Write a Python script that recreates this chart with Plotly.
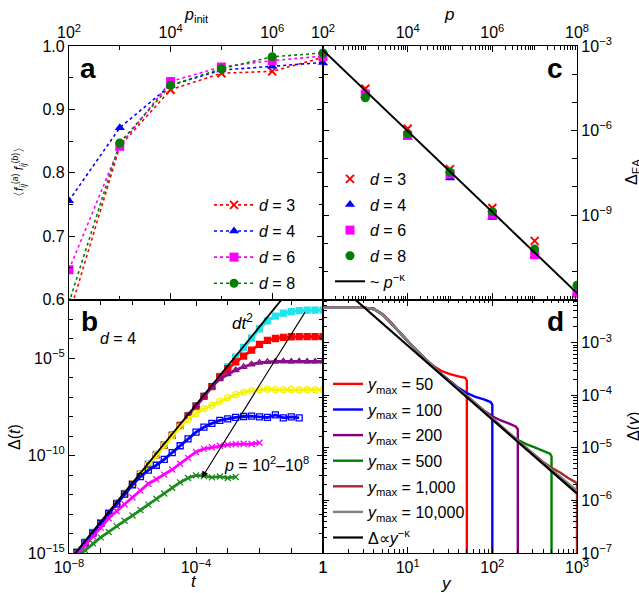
import numpy as np
import plotly.graph_objects as go

FONT = "Liberation Sans, Arial, sans-serif"

# ---------------- Panel a data ----------------
a_pinit = [1e2, 1e3, 1e4, 1e5, 1e6, 1e7]
a_d3 = [0.575, 0.842, 0.931, 0.957, 0.960, 0.982]
a_d4 = [0.756, 0.871, 0.938, 0.962, 0.968, 0.974]
a_d6 = [0.647, 0.842, 0.944, 0.967, 0.977, 0.984]
a_d8 = [0.595, 0.847, 0.938, 0.964, 0.983, 0.989]

# ---------------- Panel c data (log10 values) ----------------
c_p = [1e2, 1e3, 1e4, 1e5, 1e6, 1e7, 1e8]
c_log_d3 = [None, -4.52, -5.94, -7.37, -8.75, -9.92, None]
c_log_d4 = [-3.60, -4.76, -6.24, -7.69, -9.09, -10.45, -11.78]
c_log_d6 = [-3.37, -4.70, -6.18, -7.54, -8.97, -10.41, -11.78]
c_log_d8 = [-3.25, -4.84, -6.12, -7.48, -8.88, -10.21, -11.49]
c_fit_p = [1e2, 1e8]
c_fit_log = [-3.15, -11.77]

# ---------------- Panel b data (log10 t, log10 Delta) ----------------
b_logt = [-8.0, -7.75, -7.5, -7.25, -7.0, -6.75, -6.5, -6.25, -6.0, -5.75, -5.5,
          -5.25, -5.0, -4.75, -4.5, -4.25, -4.0, -3.75, -3.5, -3.25, -3.0, -2.75,
          -2.5, -2.25, -2.0, -1.75, -1.5, -1.25, -1.0, -0.75, -0.5, -0.25, 0.0]
b_cyan = [-15.45, -14.95, -14.45, -13.95, -13.45, -12.95, -12.45, -11.95, -11.45, -10.95, -10.45,
          -9.95, -9.45, -8.95, -8.45, -7.95, -7.45, -6.95, -6.45, -5.95, -5.45, -4.95,
          -4.46, -3.98, -3.50, -3.10, -2.85, -2.70, -2.62, -2.57, -2.55, -2.54, -2.54]
b_red = [-15.47, -14.97, -14.47, -13.97, -13.47, -12.97, -12.47, -11.97, -11.47, -10.97, -10.47,
         -9.97, -9.47, -8.97, -8.47, -7.97, -7.47, -6.97, -6.47, -5.97, -5.55, -5.20,
         -4.90, -4.60, -4.30, -4.10, -4.00, -3.94, -3.91, -3.90, -3.90, -3.90, -3.90]
b_purple = [-15.45, -14.95, -14.45, -13.95, -13.45, -12.95, -12.45, -11.95, -11.45, -10.95, -10.45,
            -9.95, -9.45, -8.95, -8.45, -7.95, -7.45, -6.96, -6.48, -6.08, -5.83, -5.62,
            -5.45, -5.32, -5.24, -5.20, -5.18, -5.17, -5.18, -5.17, -5.18, -5.18, -5.18]
b_yellow = [-15.46, -14.96, -14.46, -13.96, -13.46, -12.96, -12.46, -11.96, -11.46, -10.96, -10.46,
            -9.96, -9.46, -8.98, -8.52, -8.15, -7.84, -7.60, -7.42, -7.22, -7.03, -6.88,
            -6.76, -6.67, -6.63, -6.60, -6.62, -6.63, -6.61, -6.64, -6.62, -6.63, -6.62]
b_blue = [-15.48, -14.98, -14.48, -13.98, -13.48, -12.98, -12.48, -11.98, -11.50, -11.08, -10.75,
          -10.50, -10.20, -9.85, -9.50, -9.15, -8.80, -8.55, -8.35, -8.20, -8.12, -8.05,
          -8.00, -7.98, -8.02, -8.05, -7.92, -8.07, -8.02, -8.07, None, None, None]
b_magenta = [-15.60, -15.10, -14.62, -14.15, -13.70, -13.22, -12.85, -12.50, -12.15, -11.80, -11.45,
             -11.22, -10.98, -10.72, -10.42, -10.12, -9.82, -9.66, -9.58, -9.50, -9.45, -9.42,
             -9.40, -9.41, -9.35, None, None, None, None, None, None, None, None]
b_green = [-15.55, -15.20, -14.85, -14.50, -14.20, -13.92, -13.62, -13.35, -13.08, -12.80, -12.52,
           -12.22, -11.95, -11.65, -11.38, -11.15, -11.02, -11.05, -11.12, -11.08, -11.15, -11.10,
           None, None, None, None, None, None, None, None, None, None, None]
b_line_t = [1e-8, 1e-1]
b_line_D = [4e-16, 4e-2]

# ---------------- Panel d data (log10 y, log10 Delta) ----------------
d_gray_ly = [0, 0.25, 0.5, 0.6, 0.7, 0.8, 0.9, 1.0, 1.2, 1.4, 1.6, 1.8, 2.0, 2.2, 2.4, 2.6, 2.8, 3.0]
d_gray_lD = [-2.34, -2.34, -2.34, -2.36, -2.46, -2.62, -2.80, -2.97, -3.30, -3.60, -3.88, -4.16,
             -4.44, -4.73, -5.00, -5.28, -5.55, -5.82]
d_red_ly = [0, 0.25, 0.5, 0.6, 0.7, 0.8, 0.9, 1.0, 1.2, 1.3, 1.4, 1.5, 1.6, 1.68, 1.699, 1.699]
d_red_lD = [-2.34, -2.34, -2.34, -2.36, -2.46, -2.62, -2.80, -2.97, -3.30, -3.44, -3.54, -3.60,
            -3.64, -3.67, -3.72, -8.0]
d_blue_ly = [0, 0.25, 0.5, 0.6, 0.7, 0.8, 0.9, 1.0, 1.2, 1.4, 1.5, 1.6, 1.7, 1.8, 1.9, 1.98, 2.0, 2.0]
d_blue_lD = [-2.34, -2.34, -2.34, -2.36, -2.46, -2.62, -2.80, -2.97, -3.30, -3.60, -3.73, -3.86,
             -3.96, -4.03, -4.08, -4.13, -4.18, -8.0]
d_purple_ly = [0, 0.25, 0.5, 0.6, 0.7, 0.8, 0.9, 1.0, 1.2, 1.4, 1.6, 1.8, 1.9, 2.0, 2.1, 2.2, 2.28,
               2.301, 2.301]
d_purple_lD = [-2.34, -2.34, -2.34, -2.36, -2.46, -2.62, -2.80, -2.97, -3.30, -3.60, -3.88, -4.16,
               -4.29, -4.40, -4.48, -4.54, -4.60, -4.65, -8.0]
d_green_ly = [0, 0.25, 0.5, 0.6, 0.7, 0.8, 0.9, 1.0, 1.2, 1.4, 1.6, 1.8, 2.0, 2.2, 2.3, 2.4, 2.5,
              2.6, 2.68, 2.699, 2.699]
d_green_lD = [-2.34, -2.34, -2.34, -2.36, -2.46, -2.62, -2.80, -2.97, -3.30, -3.60, -3.88, -4.16,
              -4.44, -4.73, -4.85, -4.93, -4.99, -5.05, -5.11, -5.16, -8.0]
d_brown_ly = [0, 0.25, 0.5, 0.6, 0.7, 0.8, 0.9, 1.0, 1.2, 1.4, 1.6, 1.8, 2.0, 2.2, 2.4, 2.6, 2.7,
              2.8, 2.9, 2.99, 3.0, 3.0]
d_brown_lD = [-2.34, -2.34, -2.34, -2.36, -2.46, -2.62, -2.80, -2.97, -3.30, -3.60, -3.88, -4.16,
              -4.44, -4.73, -5.00, -5.27, -5.38, -5.47, -5.58, -5.66, -5.70, -8.0]
d_fit_y = [2.39, 1000]
d_fit_D = [6.6e-3, 1.35e-6]


def p10(v):
    return [None if x is None else 10.0 ** x for x in v]


# ---------- geometry helpers (pixel -> paper) ----------
L, R, T, B = 69, 62, 46, 40
W, H = 639, 593
PW, PH = W - L - R, H - T - B


def px(x):
    return (x - L) / PW


def py(y):
    return (H - B - y) / PH


fig = go.Figure()

# ---------------- Panel a ----------------
a_specs = [
    (a_d3, "red", "x-thin", 8, "<i>d</i> = 3"),
    (a_d4, "blue", "triangle-up", 9, "<i>d</i> = 4"),
    (a_d6, "magenta", "square", 9, "<i>d</i> = 6"),
    (a_d8, "green", "circle", 9, "<i>d</i> = 8"),
]
for i, (vals, col, sym, sz, name) in enumerate(a_specs):
    fig.add_trace(go.Scatter(
        x=a_pinit, y=vals, mode="lines+markers", name=name,
        line=dict(color=col, dash="dot", width=1.6),
        marker=dict(symbol=sym, size=sz, color=col, line=dict(color=col, width=2 if sym == "x-thin" else 0)),
        xaxis="x", yaxis="y", legend="legend", legendgroup="a%d" % i))

# ---------------- Panel c ----------------
c_specs = [
    (c_log_d3, "red", "x-thin", 8, "<i>d</i> = 3"),
    (c_log_d4, "blue", "triangle-up", 9, "<i>d</i> = 4"),
    (c_log_d6, "magenta", "square", 9, "<i>d</i> = 6"),
    (c_log_d8, "green", "circle", 9, "<i>d</i> = 8"),
]
for i, (vals, col, sym, sz, name) in enumerate(c_specs):
    fig.add_trace(go.Scatter(
        x=c_p, y=p10(vals), mode="markers", name=name,
        marker=dict(symbol=sym, size=sz, color=col, line=dict(color=col, width=2 if sym == "x-thin" else 0)),
        xaxis="x2", yaxis="y2", legend="legend2", legendgroup="c%d" % i))
fig.add_trace(go.Scatter(
    x=c_fit_p, y=p10(c_fit_log), mode="lines", name="~ <i>p</i><sup>−κ</sup>",
    line=dict(color="black", width=2), xaxis="x2", yaxis="y2", legend="legend2", legendgroup="c9"))

# ---------------- Panel b ----------------
b_t = p10(b_logt)
b_specs = [
    (b_cyan, "#20e4ec", "square", 6),
    (b_red, "#ff0000", "square", 6),
    (b_purple, "#8a108a", "triangle-up-open", 6),
    (b_yellow, "#f4f400", "circle-open", 6),
    (b_blue, "#0000ff", "square-open", 6),
    (b_magenta, "#ff00ff", "x-thin", 6),
    (b_green, "#1f8a1f", "x-thin", 6),
]
for vals, col, sym, sz in b_specs:
    fig.add_trace(go.Scatter(
        x=b_t, y=p10(vals), mode="lines+markers", showlegend=False,
        line=dict(color=col, width=2.8),
        marker=dict(symbol=sym, size=sz, color=col, line=dict(color=col, width=1.3)),
        xaxis="x3", yaxis="y3"))
fig.add_trace(go.Scatter(x=b_line_t, y=b_line_D, mode="lines", showlegend=False,
                         line=dict(color="black", width=1.8), xaxis="x3", yaxis="y3"))

# ---------------- Panel d ----------------
d_specs = [
    (d_red_ly, d_red_lD, "#ff0000", "<i>y</i><sub>max</sub> = 50"),
    (d_blue_ly, d_blue_lD, "#0000ff", "<i>y</i><sub>max</sub> = 100"),
    (d_purple_ly, d_purple_lD, "#800080", "<i>y</i><sub>max</sub> = 200"),
    (d_green_ly, d_green_lD, "#008000", "<i>y</i><sub>max</sub> = 500"),
    (d_brown_ly, d_brown_lD, "#a52a2a", "<i>y</i><sub>max</sub> = 1,000"),
    (d_gray_ly, d_gray_lD, "#808080", "<i>y</i><sub>max</sub> = 10,000"),
]
for i, (lx, lD, col, name) in enumerate(d_specs):
    fig.add_trace(go.Scatter(
        x=p10(lx), y=p10(lD), mode="lines", name=name,
        line=dict(color=col, width=2.4), xaxis="x4", yaxis="y4",
        legend="legend3", legendgroup="d%d" % i))
fig.add_trace(go.Scatter(
    x=d_fit_y, y=d_fit_D, mode="lines", name="Δ∝<i>y</i><sup>−κ</sup>",
    line=dict(color="black", width=2.2), xaxis="x4", yaxis="y4",
    legend="legend3", legendgroup="d9"))


# ---------------- Axes ----------------
def dec_minor(lo, hi):
    out = []
    for e in range(lo, hi):
        for m in range(2, 10):
            out.append(m * 10.0 ** e)
    return out


def sup(e):
    s = str(e).replace("-", "−")
    return "10<sup>%s</sup>" % s


base = dict(showline=True, linecolor="black", linewidth=1.3, mirror="ticks", ticks="inside",
            ticklen=6, tickwidth=1.2, tickcolor="black", showgrid=False, zeroline=False,
            automargin=False, tickfont=dict(family=FONT, size=16, color="black"))
minor_style = dict(ticks="inside", ticklen=3.5, tickwidth=1, tickcolor="black", showgrid=False)

fig.update_layout(
    xaxis=dict(base, domain=[0, 0.5], anchor="y", side="top", type="log", range=[2, 7],
               tickvals=[1e2, 1e4, 1e6], ticktext=[sup(2), sup(4), sup(6)],
               minor=dict(minor_style, tickvals=[1e3, 1e5, 1e7])),
    yaxis=dict(base, domain=[0.5, 1], anchor="x", range=[0.6, 1.0],
               tickvals=[0.6, 0.7, 0.8, 0.9, 1.0], ticktext=["0.6", "0.7", "0.8", "0.9", "1.0"],
               minor=dict(minor_style, tickvals=[0.65, 0.75, 0.85, 0.95])),
    xaxis2=dict(base, domain=[0.5, 1], anchor="y2", side="top", type="log", range=[2, 8],
                tickvals=[1e2, 1e4, 1e6, 1e8], ticktext=[sup(2), sup(4), sup(6), sup(8)],
                minor=dict(minor_style, tickvals=dec_minor(2, 8) + [1e3, 1e5, 1e7])),
    yaxis2=dict(base, domain=[0.5, 1], anchor="x2", side="right", type="log", range=[-12, -3],
                tickvals=[1e-9, 1e-6, 1e-3], ticktext=[sup(-9), sup(-6), sup(-3)],
                minor=dict(minor_style, ticklen=5, tickvals=[1e-12, 1e-11, 1e-10, 1e-8, 1e-7, 1e-5, 1e-4])),
    xaxis3=dict(base, domain=[0, 0.5], anchor="y3", side="bottom", type="log", range=[-8, 0],
                tickvals=[1e-8, 1e-4, 1], ticktext=[sup(-8), sup(-4), "1"],
                minor=dict(minor_style, ticklen=5, tickvals=[1e-7, 1e-6, 1e-5, 1e-3, 1e-2, 1e-1])),
    yaxis3=dict(base, domain=[0, 0.5], anchor="x3", type="log", range=[-15, -2],
                tickvals=[1e-15, 1e-10, 1e-5], ticktext=[sup(-15), sup(-10), sup(-5)],
                minor=dict(minor_style, ticklen=4,
                           tickvals=[1e-14, 1e-13, 1e-12, 1e-11, 1e-9, 1e-8, 1e-7, 1e-6, 1e-4, 1e-3, 1e-2])),
    xaxis4=dict(base, domain=[0.5, 1], anchor="y4", side="bottom", type="log", range=[0, 3],
                tickvals=[1, 10, 100, 1000], ticktext=["1", sup(1), sup(2), sup(3)],
                minor=dict(minor_style, tickvals=dec_minor(0, 3))),
    yaxis4=dict(base, domain=[0, 0.5], anchor="x4", side="right", type="log", range=[-7, -2.18],
                tickvals=[1e-7, 1e-6, 1e-5, 1e-4, 1e-3],
                ticktext=[sup(-7), sup(-6), sup(-5), sup(-4), sup(-3)],
                minor=dict(minor_style, tickvals=dec_minor(-7, -2))),
)

leg_common = dict(bgcolor="rgba(0,0,0,0)", borderwidth=0, font=dict(family=FONT, size=16, color="black"),
                  tracegroupgap=1.8, xanchor="left", yanchor="top", itemwidth=30)
fig.update_layout(
    legend=dict(leg_common, x=px(209), y=py(188), itemwidth=40, tracegroupgap=2.3),
    legend2=dict(leg_common, x=px(330), y=py(162)),
    legend3=dict(leg_common, x=px(328), y=py(367)),
)

ann = []


def txt(x, y, t, size=16, bold=False, angle=0):
    ann.append(dict(x=px(x), y=py(y), xref="paper", yref="paper", text=("<b>%s</b>" % t) if bold else t,
                    showarrow=False, textangle=angle, xanchor="center", yanchor="middle",
                    font=dict(family=FONT, size=size, color="black")))


txt(88, 68, "a", 28, True)
txt(555, 68, "c", 28, True)
txt(89, 321, "b", 28, True)
txt(555, 321, "d", 28, True)
txt(196, 16, "<i>p</i><sub>init</sub>", 16)
txt(449, 15, "<i>p</i>", 17)
txt(194, 581, "<i>t</i>", 17)
txt(446, 583, "<i>y</i>", 17)
txt(19, 172, "〈<i>f</i><sub><i>ij</i></sub><sup>(<i>a</i>)</sup> <i>f</i><sub><i>ij</i></sub><sup>(<i>b</i>)</sup>〉", 12, angle=-90)
txt(15, 437, "Δ(<i>t</i>)", 16, angle=-90)
txt(632, 172, "Δ<sub>EA</sub>", 16, angle=-90)
txt(633, 427, "Δ(<i>y</i>)", 16, angle=-90)
txt(242, 322, "<i>dt</i><sup>2</sup>", 17)
txt(118, 338, "<i>d</i> = 4", 16)
txt(266, 464, "<i>p</i> = 10<sup>2</sup>–10<sup>8</sup>", 16)
ann.append(dict(x=-3.82, y=-11.15, xref="x3", yref="y3", ax=-0.535, ay=-2.57, axref="x3", ayref="y3",
                text="", showarrow=True, arrowhead=2, arrowsize=1.2, arrowwidth=1.1, arrowcolor="black"))

fig.update_layout(
    annotations=ann,
    width=W, height=H,
    margin=dict(l=L, r=R, t=T, b=B, autoexpand=False),
    paper_bgcolor="white", plot_bgcolor="white",
    font=dict(family=FONT, size=16, color="black"),
)

fig.write_html("out.html", config={"displayModeBar": False},
               post_script="document.body.style.margin='0px';document.body.style.overflow='hidden';")
